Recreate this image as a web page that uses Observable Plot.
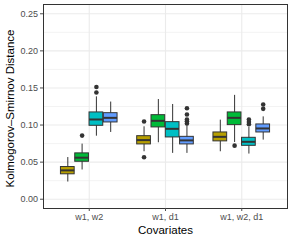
<!DOCTYPE html>
<html>
<head>
<meta charset="utf-8">
<script src="https://cdn.jsdelivr.net/npm/d3@7"></script>
<script src="https://cdn.jsdelivr.net/npm/@observablehq/plot@0.6"></script>
<style>
  html, body { margin: 0; padding: 0; background: #fff; }
  #chart { width: 298px; height: 242px; }
</style>
</head>
<body>
<div id="chart"></div>
<script>
const covariates = ["w1, w2", "w1, d1", "w1, w2, d1"];
const series = ["s1", "s2", "s3", "s4"];
const colors = ["#B79F00", "#00BA38", "#00BFC4", "#619CFF"];

// box statistics, ordered covariate-major (4 series per covariate)
const whiskerLow  = [0.0232, 0.0394, 0.0850, 0.0900,  0.0640, 0.0761, 0.0618, 0.0618,  0.0640, 0.0765, 0.0609, 0.0797];
const quart1      = [0.0336, 0.0505, 0.0990, 0.1035,  0.0739, 0.0968, 0.0833, 0.0739,  0.0780, 0.0999, 0.0720, 0.0900];
const medians     = [0.0389, 0.0560, 0.1075, 0.1097,  0.0797, 0.1057, 0.0949, 0.0793,  0.0841, 0.1097, 0.0774, 0.0954];
const quart3      = [0.0434, 0.0618, 0.1170, 0.1160,  0.0850, 0.1133, 0.1039, 0.0841,  0.0900, 0.1170, 0.0828, 0.1008];
const whiskerHigh = [0.0562, 0.0743, 0.1380, 0.1310,  0.0976, 0.1344, 0.1277, 0.0990,  0.1066, 0.1400, 0.0970, 0.1110];

const outlierCov    = [0, 0, 0,  1, 1,  1, 1, 1, 1, 1,  2,  2, 2, 2,  2, 2];
const outlierSeries = [1, 2, 2,  0, 0,  3, 3, 3, 3, 3,  1,  2, 2, 2,  3, 3];
const outlierValue  = [0.0858, 0.1438, 0.1513,  0.1048, 0.0565,  0.1020, 0.1050, 0.1075, 0.1142, 0.1227,  0.0722,  0.1010, 0.1040, 0.1075,  0.1218, 0.1277];

const yTicks = [0, 0.05, 0.10, 0.15, 0.20, 0.25];
const yMinor = [0.025, 0.075, 0.125, 0.175, 0.225];

// dodge layout (ggplot-like: dodge width 0.75 split across 4 series)
const dodge = 0.75 / series.length;
const half = dodge * 0.48;
const pos = (g, s) => g + 1 + (s - (series.length - 1) / 2) * dodge;

const boxes = whiskerLow.map((lo, i) => {
  const g = Math.floor(i / series.length), s = i % series.length;
  return {cov: covariates[g], series: series[s], xc: pos(g, s), lo, q1: quart1[i], med: medians[i], q3: quart3[i], hi: whiskerHigh[i]};
});
const outliers = outlierValue.map((v, i) => ({xc: pos(outlierCov[i], outlierSeries[i]), v}));

const font = "Liberation Sans, Arial, Helvetica, sans-serif";

const chart = Plot.plot({
  width: 298,
  height: 242,
  marginLeft: 43,
  marginRight: 11,
  marginTop: 4,
  marginBottom: 34,
  style: {fontFamily: font, background: "#fff", overflow: "visible"},
  x: {type: "linear", domain: [0.4, 3.6], axis: null},
  y: {domain: [-0.0125, 0.2625], axis: null},
  color: {domain: series, range: colors},
  marks: [
    Plot.ruleY(yMinor, {stroke: "#EBEBEB", strokeWidth: 0.6}),
    Plot.ruleY(yTicks, {stroke: "#EBEBEB", strokeWidth: 1.1}),
    Plot.ruleX([1, 2, 3], {stroke: "#EBEBEB", strokeWidth: 1.1}),
    Plot.ruleX(boxes, {x: "xc", y1: "lo", y2: "hi", stroke: "#333", strokeWidth: 1}),
    Plot.rect(boxes, {x1: d => d.xc - half, x2: d => d.xc + half, y1: "q1", y2: "q3", fill: "series", stroke: "#333", strokeWidth: 1}),
    Plot.ruleY(boxes, {x1: d => d.xc - half, x2: d => d.xc + half, y: "med", stroke: "#333", strokeWidth: 2}),
    Plot.dot(outliers, {x: "xc", y: "v", r: 2.3, fill: "#333", stroke: "none"}),
    Plot.frame({stroke: "#333", strokeWidth: 1}),
    Plot.axisY(yTicks, {tickFormat: d3.format(".2f"), tickSize: 3, tickPadding: 2.5, fontSize: 9, color: "#4D4D4D", label: null}),
    Plot.axisX([1, 2, 3], {tickFormat: d => covariates[d - 1], tickSize: 3, tickPadding: 2.5, fontSize: 9, color: "#4D4D4D", label: null}),
    Plot.text(["Kolmogorov\u2013Smirnov Distance"], {frameAnchor: "left", dx: -33, dy: 2, rotate: -90, fontSize: 11.5, fill: "#000", textAnchor: "middle", lineAnchor: "middle"}),
    Plot.text(["Covariates"], {frameAnchor: "bottom", dy: 22, fontSize: 11.5, fill: "#000", textAnchor: "middle", lineAnchor: "middle"})
  ]
});
document.getElementById("chart").appendChild(chart);
</script>
</body>
</html>
